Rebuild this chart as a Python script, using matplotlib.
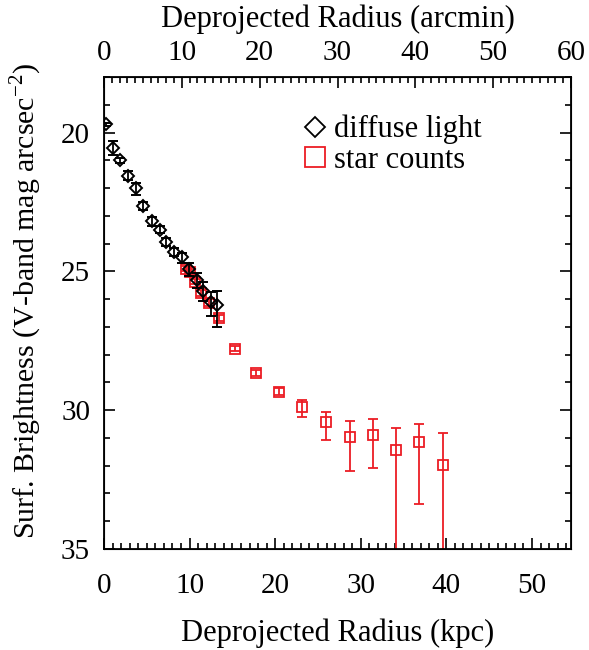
import matplotlib
matplotlib.use("Agg")
import matplotlib.pyplot as plt
from matplotlib.ticker import MultipleLocator
from matplotlib.lines import Line2D

plt.rcParams['font.family'] = ['Liberation Serif', 'DejaVu Serif']
plt.rcParams['mathtext.fontset'] = 'custom'
plt.rcParams['mathtext.rm'] = 'Liberation Serif'

# diffuse light (kpc, V mag/arcsec^2, errors toward brighter / fainter)
diff_r = [0.2, 1.0, 1.9, 2.8, 3.7, 4.6, 5.6, 6.5, 7.3, 8.2, 9.1, 9.9, 10.9, 11.6, 12.5, 13.2]
diff_mu = [19.7, 20.55, 21.0, 21.55, 22.0, 22.65, 23.2, 23.5, 23.95, 24.3, 24.5, 24.9, 25.3, 25.7, 26.1, 26.2]
diff_err_bright = [0.05, 0.25, 0.1, 0.15, 0.2, 0.15, 0.15, 0.12, 0.15, 0.15, 0.15, 0.2, 0.25, 0.3, 0.35, 0.5]
diff_err_faint = [0.05, 0.25, 0.1, 0.15, 0.25, 0.15, 0.15, 0.12, 0.15, 0.15, 0.2, 0.25, 0.3, 0.35, 0.5, 0.8]

# star counts
star_r = [9.6, 10.05, 10.65, 11.3, 12.3, 13.4, 15.3, 17.8, 20.5, 23.1, 25.9, 28.7, 31.4, 34.1, 36.8, 39.6]
star_mu = [24.9, 25.02, 25.37, 25.78, 26.13, 26.68, 27.78, 28.67, 29.33, 29.9, 30.44, 30.95, 30.9, 31.44, 31.16, 31.97]
star_err_bright = [0.1, 0.1, 0.1, 0.1, 0.12, 0.1, 0.08, 0.1, 0.12, 0.26, 0.39, 0.57, 0.57, 0.79, 0.68, 1.13]
star_err_faint = [0.1, 0.1, 0.1, 0.1, 0.12, 0.1, 0.08, 0.1, 0.12, 0.36, 0.63, 1.25, 1.18, 5.0, 2.21, 5.0]

labels = ['diffuse light', 'star counts']
xmax_kpc = 54.56
xmax_arcmin = 60
red = '#ec1c24'

fig = plt.figure(figsize=(5.89, 6.5), dpi=100)
ax = fig.add_axes([104/589, 1-549/650, (571-104)/589, (549-77)/650])

ax.errorbar(star_r, star_mu, yerr=[star_err_bright, star_err_faint], fmt='s',
            mfc='none', mec=red, ecolor=red, color=red, ms=7.5, mew=1.3,
            elinewidth=1.3, capsize=3.5, capthick=1.3, zorder=2)
ax.errorbar(diff_r, diff_mu, yerr=[diff_err_bright, diff_err_faint], fmt='D',
            mfc='none', mec='black', ecolor='black', color='black', ms=5.8, mew=1.4,
            elinewidth=1.3, capsize=3.5, capthick=1.3, zorder=3)

ax.set_xlim(0, xmax_kpc)
ax.set_ylim(35, 18)
ax.xaxis.set_major_locator(MultipleLocator(10))
ax.xaxis.set_minor_locator(MultipleLocator(1))
ax.yaxis.set_major_locator(MultipleLocator(5))
ax.yaxis.set_minor_locator(MultipleLocator(1))
ax.tick_params(which='both', direction='in', right=True, top=False, labelsize=21, width=1.2)
ax.tick_params(which='major', length=8)
ax.tick_params(which='minor', length=4)
ax.tick_params(axis='x', pad=17)
ax.tick_params(axis='y', pad=10)
for s in ax.spines.values():
    s.set_linewidth(1.3)

ax.set_xlabel('Deprojected Radius (kpc)', fontsize=22, labelpad=14)
ax.set_ylabel('Surf. Brightness (V-band mag arcsec$^{-2}$)', fontsize=21.5, labelpad=12)
ax.yaxis.label.set_y(0.525)

ax2 = ax.twiny()
ax2.set_xlim(0, xmax_arcmin)
ax2.xaxis.set_major_locator(MultipleLocator(10))
ax2.xaxis.set_minor_locator(MultipleLocator(1))
ax2.tick_params(which='both', direction='in', labelsize=21, width=1.2)
ax2.tick_params(which='major', length=8, pad=8)
ax2.tick_params(which='minor', length=4)
ax2.set_xlabel('Deprojected Radius (arcmin)', fontsize=22, labelpad=9)

handles = [Line2D([], [], ls='none', marker='D', ms=10.5, mfc='none', mec='black', mew=1.3),
           Line2D([], [], ls='none', marker='s', ms=14, mfc='none', mec=red, mew=1.3)]
ax.legend(handles, labels, loc='upper left', bbox_to_anchor=(0.373, 0.965), frameon=False,
          fontsize=22, handlelength=1.0, handletextpad=0.12, labelspacing=0.05,
          borderpad=0.2)

fig.savefig('out.png', dpi=100)
